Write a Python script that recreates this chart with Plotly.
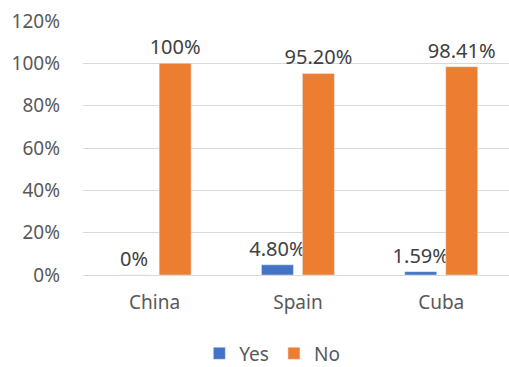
import plotly.graph_objects as go

countries = ["China", "Spain", "Cuba"]
yes_pct = [0.0, 4.80, 1.59]
no_pct = [100.0, 95.20, 98.41]
yes_labels = ["0%", "4.80%", "1.59%"]
no_labels = ["100%", "95.20%", "98.41%"]
y_ticks = [0, 20, 40, 60, 80, 100, 120]

FONT = "Noto Sans"
AXIS_GREY = "#595959"
LABEL_GREY = "#404040"

fig = go.Figure()
fig.add_trace(go.Bar(
    name="Yes", x=countries, y=yes_pct, text=yes_labels,
    textposition="outside", cliponaxis=False, constraintext="none",
    marker=dict(color="#4472C4"),
    textfont=dict(family=FONT, size=20, color=LABEL_GREY),
))
fig.add_trace(go.Bar(
    name="No", x=countries, y=no_pct, text=no_labels,
    textposition="outside", cliponaxis=False, constraintext="none",
    marker=dict(color="#ED7D31"),
    textfont=dict(family=FONT, size=20, color=LABEL_GREY),
))

fig.update_layout(
    width=509, height=367,
    margin=dict(l=83, r=0, t=21, b=92),
    paper_bgcolor="white", plot_bgcolor="white",
    barmode="group", bargap=0.428, bargroupgap=0.22,
    font=dict(family=FONT, size=19, color=AXIS_GREY),
    showlegend=True,
    legend=dict(
        orientation="h", xref="container", yref="container",
        x=0.535, xanchor="center", y=0.037, yanchor="middle",
        font=dict(family=FONT, size=19, color=AXIS_GREY),
        itemwidth=30, traceorder="normal",
    ),
)
fig.update_xaxes(
    range=[-0.5, 2.473], showgrid=False, showline=False,
    ticks="", ticklabelstandoff=14,
    tickfont=dict(family=FONT, size=19, color=AXIS_GREY),
)
fig.update_yaxes(
    range=[0, 120], tickvals=y_ticks,
    ticktext=[f"{v}%" for v in y_ticks],
    showgrid=True, gridcolor="#D9D9D9", gridwidth=1.3,
    zeroline=True, zerolinecolor="#D9D9D9", zerolinewidth=1.3,
    showline=False, ticks="", ticklabelstandoff=22,
    tickfont=dict(family=FONT, size=19, color=AXIS_GREY),
)

fig.write_html("out.html")
